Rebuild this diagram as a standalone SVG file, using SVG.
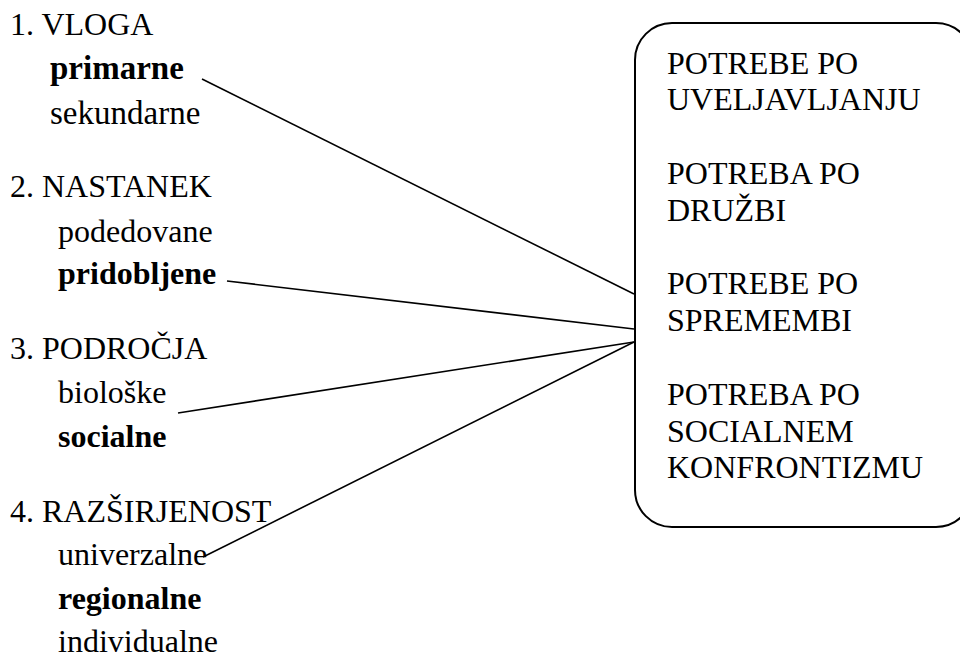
<svg xmlns="http://www.w3.org/2000/svg" width="960" height="657" viewBox="0 0 960 657">
<style>
.b { font-weight: bold; }
.conn line { stroke: #000; stroke-width: 1.6; }
.box { fill: #fff; stroke: #000; stroke-width: 2; }
</style>
<rect width="960" height="657" fill="#fff"/>
<g id="connectors" class="conn">
<line x1="202" y1="79" x2="634" y2="294"/>
<line x1="227" y1="281" x2="634" y2="329"/>
<line x1="178" y1="413" x2="634" y2="342"/>
<line x1="203" y1="557" x2="634" y2="342"/>
</g>
<g id="group1">
<text x="10" y="35" font-family="Liberation Serif" font-size="32" style="font-family:'Liberation Serif'">1. VLOGA</text>
<text x="50" y="79" font-family="Liberation Serif" font-size="33" font-weight="bold" style="font-family:'Liberation Serif'">primarne</text>
<text x="50" y="124" font-family="Liberation Serif" font-size="33" style="font-family:'Liberation Serif'">sekundarne</text>
</g>
<g id="group2">
<text x="10" y="197" font-family="Liberation Serif" font-size="32" style="font-family:'Liberation Serif'">2. NASTANEK</text>
<text x="58" y="241.5" font-family="Liberation Serif" font-size="32" style="font-family:'Liberation Serif'">podedovane</text>
<text x="58" y="284" font-family="Liberation Serif" font-size="32" font-weight="bold" style="font-family:'Liberation Serif'">pridobljene</text>
</g>
<g id="group3">
<text x="10" y="358.5" font-family="Liberation Serif" font-size="32" style="font-family:'Liberation Serif'">3. PODROČJA</text>
<text x="58" y="403" font-family="Liberation Serif" font-size="32" style="font-family:'Liberation Serif'">biološke</text>
<text x="58" y="447" font-family="Liberation Serif" font-size="32" font-weight="bold" style="font-family:'Liberation Serif'">socialne</text>
</g>
<g id="group4">
<text x="10" y="521.5" font-family="Liberation Serif" font-size="32" style="font-family:'Liberation Serif'">4. RAZŠIRJENOST</text>
<text x="58" y="565" font-family="Liberation Serif" font-size="32" style="font-family:'Liberation Serif'">univerzalne</text>
<text x="58" y="609" font-family="Liberation Serif" font-size="32" font-weight="bold" style="font-family:'Liberation Serif'">regionalne</text>
<text x="58" y="652" font-family="Liberation Serif" font-size="32" style="font-family:'Liberation Serif'">individualne</text>
</g>
<g id="needs">
<rect class="box" x="635" y="23" width="338" height="504" rx="37" ry="37"/>
<text x="667" y="73.5" font-family="Liberation Serif" font-size="32" style="font-family:'Liberation Serif'">POTREBE PO</text>
<text x="667" y="110.3" font-family="Liberation Serif" font-size="32" style="font-family:'Liberation Serif'">UVELJAVLJANJU</text>
<text x="667" y="183.9" font-family="Liberation Serif" font-size="32" style="font-family:'Liberation Serif'">POTREBA PO</text>
<text x="667" y="220.7" font-family="Liberation Serif" font-size="32" style="font-family:'Liberation Serif'">DRUŽBI</text>
<text x="667" y="294.3" font-family="Liberation Serif" font-size="32" style="font-family:'Liberation Serif'">POTREBE PO</text>
<text x="667" y="331.1" font-family="Liberation Serif" font-size="32" style="font-family:'Liberation Serif'">SPREMEMBI</text>
<text x="667" y="404.7" font-family="Liberation Serif" font-size="32" style="font-family:'Liberation Serif'">POTREBA PO</text>
<text x="667" y="441.5" font-family="Liberation Serif" font-size="32" style="font-family:'Liberation Serif'">SOCIALNEM</text>
<text x="667" y="478.3" font-family="Liberation Serif" font-size="32" style="font-family:'Liberation Serif'">KONFRONTIZMU</text>
</g>
</svg>
